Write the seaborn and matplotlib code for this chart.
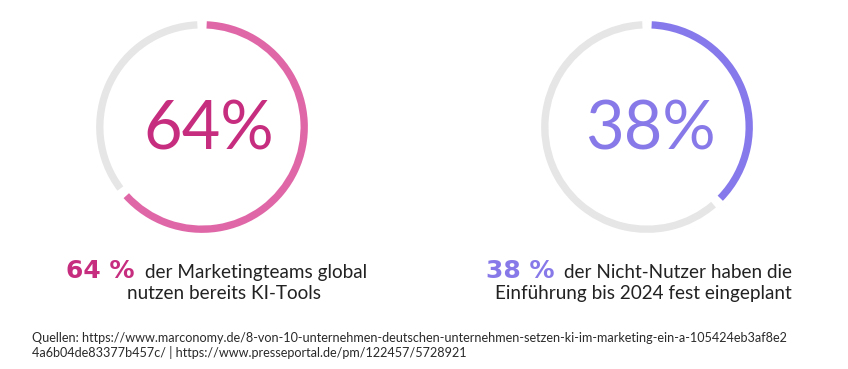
import matplotlib
matplotlib.use("Agg")
import matplotlib.pyplot as plt
import seaborn as sns

# --- data ---
shares = [64, 38]
big_labels = ["64%", "38%"]
caption_bold = ["64 %", "38 %"]
caption_line1 = ["der Marketingteams global", "der Nicht-Nutzer haben die"]
caption_line2 = ["nutzen bereits KI-Tools", "Einführung bis 2024 fest eingeplant"]
source_lines = [
    "Quellen: https://www.marconomy.de/8-von-10-unternehmen-deutschen-unternehmen-setzen-ki-im-marketing-ein-a-105424eb3af8e2",
    "4a6b04de83377b457c/ | https://www.presseportal.de/pm/122457/5728921",
]

ring_colors = ["#E067A7", "#8679EC"]
text_colors = ["#C72D7E", "#8879E9"]
track_color = "#E6E6E6"

# --- layout (pixels) ---
W, H = 848, 369
centers = [(202, 127), (647, 127)]
R = 108
thickness = 7.5
gap_deg = 2.6
num_x = [209, 650]
bold_x = [66, 486]
rest_x = [145, 564]
line2_cx = [224, 643]

sns.set_theme(style="white")
plt.rcParams["font.family"] = ["Lato", "DejaVu Sans"]

fig = plt.figure(figsize=(W / 100, H / 100), dpi=100)
fig.patch.set_facecolor("white")


def fx(x):
    return x / W


def fy(y):
    return 1 - y / H


for i, share in enumerate(shares):
    cx, cy = centers[i]
    ax = fig.add_axes([fx(cx - R), fy(cy + R), 2 * R / W, 2 * R / H])
    wedges, _ = ax.pie([share, 100 - share], colors=[ring_colors[i], track_color],
                       startangle=90, counterclock=False, radius=1,
                       wedgeprops=dict(width=thickness / R, linewidth=0))
    # kleine Lücken zwischen den Segmenten
    for w in wedges:
        w.set_theta1(w.theta1 + gap_deg)
        w.set_theta2(w.theta2 - gap_deg)
    ax.set_xlim(-1.02, 1.02)
    ax.set_ylim(-1.02, 1.02)
    ax.axis("off")

    fig.text(fx(num_x[i]), fy(130.5), big_labels[i], color=text_colors[i],
             fontsize=48, ha="center", va="center", fontweight="normal")

    fig.text(fx(bold_x[i]), fy(278), caption_bold[i], color=text_colors[i],
             fontsize=18, fontweight="bold", ha="left", va="baseline",
             family=["DejaVu Sans"])
    fig.text(fx(rest_x[i]), fy(278), caption_line1[i], color="#222222",
             fontsize=13.6, ha="left", va="baseline")
    fig.text(fx(line2_cx[i]), fy(299), caption_line2[i], color="#222222",
             fontsize=13.6, ha="center", va="baseline")

for j, line in enumerate(source_lines):
    fig.text(fx(32), fy(342 + 15 * j), line, color="#2a2a2a",
             fontsize=9.1, ha="left", va="baseline")

fig.savefig("out.png", dpi=100, facecolor="white")
